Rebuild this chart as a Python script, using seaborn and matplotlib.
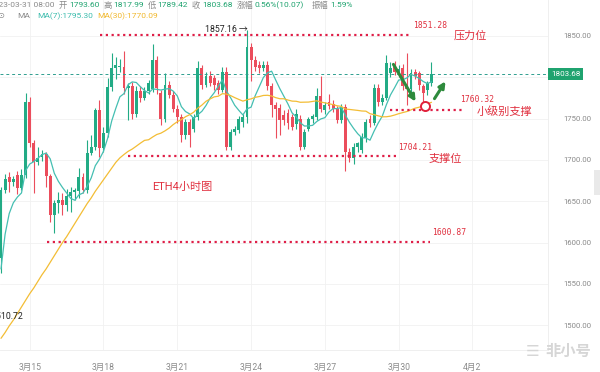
import numpy as np
import pandas as pd
import matplotlib
matplotlib.use("Agg")
import matplotlib.pyplot as plt
import seaborn as sns
from matplotlib.patches import FancyArrowPatch, Rectangle

# ---------------- data ----------------
last_time = "2023-03-31 08:00"
opens = [1581, 1664, 1679, 1673, 1682, 1666, 1682, 1770, 1720, 1697,
         1703, 1707, 1680, 1633, 1648, 1651, 1645, 1656, 1661, 1662,
         1679, 1663, 1708, 1716, 1760, 1715, 1732, 1788, 1811, 1812,
         1812, 1787, 1790, 1756, 1783, 1775, 1783, 1786, 1821, 1781,
         1750, 1791, 1779, 1762, 1752, 1730, 1746, 1738, 1752, 1811,
         1791, 1801, 1799, 1793, 1785, 1807, 1716, 1734, 1736, 1746,
         1752, 1837, 1821, 1815, 1811, 1815, 1789, 1766, 1763, 1754,
         1757, 1752, 1743, 1750, 1716, 1738, 1749, 1752, 1777, 1760,
         1770, 1768, 1762, 1748, 1764, 1710, 1702, 1716, 1712, 1726,
         1749, 1745, 1787, 1770, 1775, 1805, 1813, 1807, 1811, 1789,
         1786, 1806, 1805, 1789, 1785, 1793.60]
highs = [1667, 1683, 1685, 1680, 1686, 1689, 1781, 1776, 1724, 1716,
         1712, 1709, 1683, 1652, 1661, 1660, 1665, 1667, 1666, 1690,
         1684, 1724, 1730, 1763, 1773, 1740, 1799, 1830, 1825, 1822,
         1832, 1793, 1794, 1790, 1790, 1788, 1797, 1840, 1826, 1785,
         1805, 1796, 1783, 1766, 1756, 1750, 1750, 1756, 1820, 1815,
         1806, 1808, 1803, 1797, 1812, 1812, 1738, 1741, 1753, 1756,
         1857.16, 1842, 1826, 1820, 1820, 1820, 1793, 1770, 1768, 1760,
         1762, 1755, 1762, 1754, 1738, 1752, 1756, 1787, 1801, 1770,
         1780, 1772, 1765, 1768, 1768, 1714, 1720, 1722, 1732, 1750,
         1754, 1792, 1792, 1780, 1827, 1818, 1820, 1815, 1816, 1830,
         1810, 1810, 1808, 1792, 1795, 1817.99]
lows = [1563, 1660, 1661, 1668, 1659, 1664, 1678, 1716, 1660, 1694,
        1699, 1667, 1625, 1612, 1636, 1633, 1638, 1637, 1652, 1654,
        1660, 1660, 1706, 1712, 1704, 1710, 1728, 1784, 1798, 1806,
        1780, 1748, 1750, 1752, 1770, 1772, 1780, 1782, 1780, 1742,
        1746, 1775, 1758, 1745, 1722, 1725, 1716, 1734, 1748, 1786,
        1788, 1790, 1785, 1780, 1782, 1712, 1712, 1730, 1732, 1740,
        1745, 1795, 1808, 1805, 1808, 1785, 1752, 1726, 1730, 1742,
        1738, 1736, 1738, 1712, 1713, 1735, 1745, 1748, 1758, 1756,
        1762, 1758, 1745, 1745, 1686, 1698, 1695, 1710, 1708, 1722,
        1740, 1742, 1765, 1766, 1772, 1800, 1803, 1800, 1785, 1766,
        1780, 1798, 1785, 1765, 1778, 1789.42]
closes = [1664, 1677, 1673, 1677, 1666, 1682, 1770, 1720, 1697, 1702,
          1707, 1680, 1633, 1648, 1651, 1645, 1656, 1661, 1664, 1679,
          1663, 1708, 1716, 1760, 1715, 1732, 1788, 1811, 1815, 1814,
          1787, 1790, 1756, 1783, 1775, 1783, 1793, 1821, 1787, 1750,
          1791, 1779, 1762, 1752, 1730, 1746, 1730, 1752, 1811, 1791,
          1801, 1793, 1791, 1785, 1807, 1716, 1734, 1737, 1750, 1752,
          1837, 1821, 1813, 1811, 1815, 1789, 1766, 1762, 1748, 1748,
          1745, 1740, 1756, 1716, 1734, 1749, 1753, 1777, 1762, 1767,
          1765, 1762, 1748, 1764, 1710, 1702, 1716, 1720, 1728, 1746,
          1745, 1787, 1770, 1775, 1817, 1811, 1807, 1810, 1789, 1786,
          1805, 1802, 1791, 1781, 1793, 1803.68]
ma7_head = [1568, 1610, 1635, 1648, 1655, 1660]
ma30_head = [1484, 1491, 1499, 1506, 1514, 1522, 1530, 1538, 1545, 1553,
             1561, 1568, 1576, 1584, 1592, 1600, 1607, 1615, 1623, 1631,
             1639, 1647, 1654, 1662, 1669, 1676, 1683, 1690, 1697]
date_ticks = ["2023-03-15", "2023-03-18", "2023-03-21", "2023-03-24",
              "2023-03-27", "2023-03-30", "2023-04-02"]
date_labels = ["3月15", "3月18", "3月21", "3月24", "3月27", "3月30", "4月2"]
price_ticks = [1500, 1550, 1600, 1650, 1700, 1750, 1800, 1850]
levels = [1851.28, 1760.32, 1704.21, 1600.87]
level_names = ["压力位", "小级别支撑", "支撑位", ""]
chart_title = "ETH4小时图"
ma7_text = "MA(7):1795.30"
ma30_text = "MA(30):1770.09"
change_text = "0.56%(10.07)"
amp_text = "1.59%"
low_mark = 1510.72

# ---------------- frame ----------------
n = len(closes)
times = pd.date_range(end=pd.Timestamp(last_time), periods=n, freq="4h")
df = pd.DataFrame({"i": np.arange(n), "open": opens, "high": highs,
                   "low": lows, "close": closes})
ma7 = df["close"].rolling(7).mean()
ma7.iloc[:len(ma7_head)] = ma7_head
ma30 = df["close"].rolling(30).mean()
ma30.iloc[:len(ma30_head)] = ma30_head
df["ma7"] = ma7
df["ma30"] = ma30
tick_pos = [(pd.Timestamp(d) - times[0]) / pd.Timedelta("4h") for d in date_ticks]

sns.set_theme(style="white")
plt.rcParams["font.family"] = ["Roboto", "Noto Sans CJK SC", "DejaVu Sans"]

W, H = 600, 372
fig = plt.figure(figsize=(W / 100, H / 100), dpi=100)
fig.patch.set_facecolor("white")
AXR, AXB = 548, 350
ax = fig.add_axes([0, 1 - AXB / H, AXR / W, AXB / H])

PX_PER = 4.1
def X(px):
    return (px - 1) / PX_PER
def Y(py):
    return 1850 - (py - 36) / 0.826

ax.set_xlim(X(0), X(AXR))
ax.set_ylim(Y(AXB), Y(0))

GREEN = "#22ab85"
RED = "#eb4d5c"
cols = [GREEN if c >= o else RED for o, c in zip(df["open"], df["close"])]
ax.vlines(df["i"], df["low"], df["high"], colors=cols, lw=0.8, zorder=2)
body_lo = np.minimum(df["open"], df["close"])
body_h = np.maximum(np.abs(df["close"] - df["open"]), 1.2)
ax.bar(df["i"], body_h, bottom=body_lo, width=0.72, color=cols, lw=0, zorder=2)

sns.lineplot(data=df, x="i", y="ma7", ax=ax, color="#45bfb2", lw=0.9, zorder=4)
sns.lineplot(data=df, x="i", y="ma30", ax=ax, color="#f3bd35", lw=0.9, zorder=4)

last = closes[-1]

# grid / axes
ax.set_xticks(tick_pos)
ax.set_xticklabels(date_labels)
ax.set_yticks(price_ticks)
ax.set_yticklabels(["" if abs(v - last) < 15 else f"{v:.2f}" for v in price_ticks])
ax.yaxis.tick_right()
ax.tick_params(axis="y", length=0, pad=11, labelsize=5.6, labelcolor="#8a8a8a")
ax.tick_params(axis="x", length=0, pad=9, labelsize=6.2, labelcolor="#8a8a8a")
ax.grid(True, color="#f1f1f1", lw=0.6)
ax.set_xlabel("")
ax.set_ylabel("")
for s in ["top", "left"]:
    ax.spines[s].set_visible(False)
for s in ["right", "bottom"]:
    ax.spines[s].set_color("#ececec")
    ax.spines[s].set_linewidth(0.6)

# current price line and tag
ax.axhline(last, color="#2f9e8f", lw=0.7, ls=(0, (3, 3)), zorder=3)
ax.text(X(551), last, f"{last:.2f}", color="white", fontsize=5.8, va="center",
        ha="left", clip_on=False, zorder=6,
        bbox=dict(boxstyle="square,pad=0.35", fc="#1fa36f", ec="none"))

# support / resistance lines
DOT = "#df1f48"
TXT = "#e0303f"
spans = [(100, 411), (390, 462), (128, 398), (47, 430)]
num_pos = [(430, 25), (477, 100), (415, 147), (449, 232)]
name_pos = [(470, 36), (504, 112), (445, 159), None]
for lv, nm, (x0, x1), (nx, ny), npos in zip(levels, level_names, spans, num_pos, name_pos):
    ax.hlines(lv, X(x0), X(x1), color=DOT, lw=1.6, ls=(0, (1, 1.6)), zorder=5)
    ax.text(X(nx), Y(ny), f"{lv:.2f}", color=TXT, fontsize=5.8,
            family="DejaVu Sans Mono", ha="center", va="center", zorder=6)
    if npos is not None and nm:
        ax.text(X(npos[0]), Y(npos[1]), nm, color=TXT, fontsize=8,
                ha="center", va="center", zorder=6)

ax.text(X(182), Y(187), chart_title, color=TXT, fontsize=8, ha="center",
        va="center", zorder=6)

# high / low marks
imax = int(np.argmax(highs))
ax.text(X(248), Y(29), f"{highs[imax]:.2f} →", color="#222222", fontsize=6.3,
        ha="right", va="center", zorder=6)
ax.text(X(23), Y(316), f"{low_mark:.2f}", color="#222222", fontsize=6.3,
        ha="right", va="center", zorder=6, clip_on=False)

# arrows and circle
ARW = "#2e8a3c"
ax.add_patch(FancyArrowPatch((X(392), Y(62)), (X(417), Y(104)),
                             arrowstyle="-|>", mutation_scale=9, lw=2.2,
                             color=ARW, zorder=7))
ax.add_patch(FancyArrowPatch((X(433), Y(101)), (X(447), Y(79)),
                             arrowstyle="-|>", mutation_scale=9, lw=2.2,
                             color=ARW, zorder=7))
ax.plot([X(425)], [Y(106)], marker="o", ms=6.5, mfc="white", mec="#e0203a",
        mew=1.4, zorder=8)

# header (laid out left to right)
renderer = fig.canvas.get_renderer()
def ft(px, py, s, color, size=6.0, ha="left", **kw):
    t = fig.text(px / W, 1 - py / H, s, color=color, fontsize=size, ha=ha,
                 va="center", **kw)
    bb = t.get_window_extent(renderer)
    return bb.x1

GRAY = "#8a8a8a"
HG = "#1fa36f"
x = ft(55, 5, last_time, GRAY, ha="right") + 4
hdr = [("开", f"{opens[-1]:.2f}"), ("高", f"{highs[-1]:.2f}"),
       ("低", f"{lows[-1]:.2f}"), ("收", f"{closes[-1]:.2f}"),
       ("涨幅", change_text)]
for lab, val in hdr:
    x = ft(x, 5, lab, GRAY) + 1.5
    x = ft(x, 5, val, HG) + 4
x = ft(x + 4, 5, "振幅", GRAY) + 1.5
ft(x, 5, amp_text, HG)

ft(1, 16, "⊙", GRAY, family=["DejaVu Sans"], ha="center")
x = ft(17, 16, "MA", GRAY) + 7
x = ft(x, 16, ma7_text, "#3cbcad") + 5
ft(x, 16, ma30_text, "#f1b82c")

# watermark
ft(545, 352, "非小号", "#d6d6d6", size=11, weight="bold")
ft(533, 352, "☰", "#d6d6d6", size=11, ha="center", family=["DejaVu Sans"])
fig.patches.append(Rectangle((594 / W, 1 - 195 / H), 6 / W, 25 / H,
                             transform=fig.transFigure, fc="#e9e9e9", ec="none"))

fig.savefig("out.png", dpi=100, facecolor="white")
